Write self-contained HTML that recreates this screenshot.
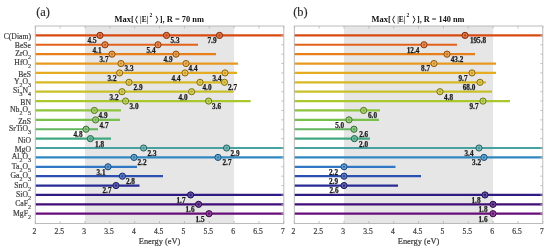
<!DOCTYPE html>
<html><head><meta charset="utf-8"><style>
html,body{margin:0;padding:0;background:#fff;width:550px;height:251px;overflow:hidden;}
#w{position:relative;width:550px;height:251px;filter:blur(0.3px);}
svg{position:absolute;left:0;top:0;}
text{font-family:"Liberation Serif",serif;}
.v{font-size:7.2px;font-weight:bold;fill:#1a1a1a;stroke:#1a1a1a;stroke-width:0.25px;}
.t{font-size:7.6px;fill:#3a3a3a;stroke:#3a3a3a;stroke-width:0.2px;}
.x{font-size:8.4px;fill:#3a3a3a;stroke:#3a3a3a;stroke-width:0.2px;}
.ttl{font-size:8.9px;font-weight:bold;fill:#111;}
.p{font-size:12.4px;fill:#2a2a2a;stroke:#2a2a2a;stroke-width:0.15px;}
.yn{position:absolute;right:519px;font-family:"Liberation Serif",serif;font-size:7.7px;line-height:11px;color:#3c3c3c;white-space:nowrap;-webkit-text-stroke:0.2px #3c3c3c;}
.yn sub{font-size:6px;vertical-align:-3.2px;line-height:0;}
</style></head><body><div id="w">
<svg width="550" height="251" viewBox="0 0 550 251">
<rect x="85.00" y="26.0" width="149.10" height="197.50" fill="#e6e6e6"/>
<line x1="35.30" y1="35.39" x2="283.80" y2="35.39" stroke="#d84a10" stroke-width="2.2"/>
<line x1="35.30" y1="44.77" x2="198.00" y2="44.77" stroke="#e2621a" stroke-width="2.2"/>
<line x1="35.30" y1="54.16" x2="216.00" y2="54.16" stroke="#e88019" stroke-width="2.2"/>
<line x1="35.30" y1="63.54" x2="238.00" y2="63.54" stroke="#e89a20" stroke-width="2.2"/>
<line x1="35.30" y1="72.93" x2="237.00" y2="72.93" stroke="#e6ac20" stroke-width="2.2"/>
<line x1="35.30" y1="82.31" x2="224.50" y2="82.31" stroke="#d8b820" stroke-width="2.2"/>
<line x1="35.30" y1="91.70" x2="233.50" y2="91.70" stroke="#c8c02a" stroke-width="2.2"/>
<line x1="35.30" y1="101.09" x2="250.60" y2="101.09" stroke="#a9c82c" stroke-width="2.2"/>
<line x1="35.30" y1="110.47" x2="121.00" y2="110.47" stroke="#8cc43c" stroke-width="2.2"/>
<line x1="35.30" y1="119.86" x2="120.00" y2="119.86" stroke="#78c04c" stroke-width="2.2"/>
<line x1="35.30" y1="129.24" x2="98.00" y2="129.24" stroke="#62b45e" stroke-width="2.2"/>
<line x1="35.30" y1="138.63" x2="111.00" y2="138.63" stroke="#42a880" stroke-width="2.2"/>
<line x1="35.30" y1="148.01" x2="283.80" y2="148.01" stroke="#46a2a0" stroke-width="2.2"/>
<line x1="35.30" y1="157.40" x2="283.80" y2="157.40" stroke="#3088c2" stroke-width="2.2"/>
<line x1="35.30" y1="166.79" x2="137.00" y2="166.79" stroke="#3078c6" stroke-width="2.2"/>
<line x1="35.30" y1="176.17" x2="163.00" y2="176.17" stroke="#2c50b0" stroke-width="2.2"/>
<line x1="35.30" y1="185.56" x2="139.50" y2="185.56" stroke="#2a2c96" stroke-width="2.2"/>
<line x1="35.30" y1="194.94" x2="283.80" y2="194.94" stroke="#301a84" stroke-width="2.2"/>
<line x1="35.30" y1="204.33" x2="283.80" y2="204.33" stroke="#400c76" stroke-width="2.2"/>
<line x1="35.30" y1="213.71" x2="283.80" y2="213.71" stroke="#6a0c7a" stroke-width="2.2"/>
<circle cx="100" cy="35.39" r="3.1" fill="#e1774b" stroke="#812c09" stroke-width="1.0"/>
<circle cx="100" cy="35.39" r="1.1" fill="#c2420e"/>
<circle cx="166.5" cy="35.39" r="3.1" fill="#e1774b" stroke="#812c09" stroke-width="1.0"/>
<circle cx="166.5" cy="35.39" r="1.1" fill="#c2420e"/>
<circle cx="219.5" cy="35.39" r="3.1" fill="#e1774b" stroke="#812c09" stroke-width="1.0"/>
<circle cx="219.5" cy="35.39" r="1.1" fill="#c2420e"/>
<circle cx="105" cy="44.77" r="3.1" fill="#e98953" stroke="#873a0f" stroke-width="1.0"/>
<circle cx="105" cy="44.77" r="1.1" fill="#cb5817"/>
<circle cx="158" cy="44.77" r="3.1" fill="#e98953" stroke="#873a0f" stroke-width="1.0"/>
<circle cx="158" cy="44.77" r="1.1" fill="#cb5817"/>
<circle cx="112" cy="54.16" r="3.1" fill="#ed9f52" stroke="#8b4c0f" stroke-width="1.0"/>
<circle cx="112" cy="54.16" r="1.1" fill="#d07316"/>
<circle cx="176" cy="54.16" r="3.1" fill="#ed9f52" stroke="#8b4c0f" stroke-width="1.0"/>
<circle cx="176" cy="54.16" r="1.1" fill="#d07316"/>
<circle cx="121" cy="63.54" r="3.1" fill="#edb357" stroke="#8b5c13" stroke-width="1.0"/>
<circle cx="121" cy="63.54" r="1.1" fill="#d08a1c"/>
<circle cx="186" cy="63.54" r="3.1" fill="#edb357" stroke="#8b5c13" stroke-width="1.0"/>
<circle cx="186" cy="63.54" r="1.1" fill="#d08a1c"/>
<circle cx="119.6" cy="72.93" r="3.1" fill="#ecc057" stroke="#8a6713" stroke-width="1.0"/>
<circle cx="119.6" cy="72.93" r="1.1" fill="#cf9a1c"/>
<circle cx="185" cy="72.93" r="3.1" fill="#ecc057" stroke="#8a6713" stroke-width="1.0"/>
<circle cx="185" cy="72.93" r="1.1" fill="#cf9a1c"/>
<circle cx="225" cy="72.93" r="3.1" fill="#ecc057" stroke="#8a6713" stroke-width="1.0"/>
<circle cx="225" cy="72.93" r="1.1" fill="#cf9a1c"/>
<circle cx="129" cy="82.31" r="3.1" fill="#e1c957" stroke="#816e13" stroke-width="1.0"/>
<circle cx="129" cy="82.31" r="1.1" fill="#c2a51c"/>
<circle cx="200" cy="82.31" r="3.1" fill="#e1c957" stroke="#816e13" stroke-width="1.0"/>
<circle cx="200" cy="82.31" r="1.1" fill="#c2a51c"/>
<circle cx="224.5" cy="82.31" r="3.1" fill="#e1c957" stroke="#816e13" stroke-width="1.0"/>
<circle cx="224.5" cy="82.31" r="1.1" fill="#c2a51c"/>
<circle cx="122" cy="91.70" r="3.1" fill="#d5cf5f" stroke="#787319" stroke-width="1.0"/>
<circle cx="122" cy="91.70" r="1.1" fill="#b4ac25"/>
<circle cx="191.6" cy="91.70" r="3.1" fill="#d5cf5f" stroke="#787319" stroke-width="1.0"/>
<circle cx="191.6" cy="91.70" r="1.1" fill="#b4ac25"/>
<circle cx="125.6" cy="101.09" r="3.1" fill="#bed560" stroke="#65781a" stroke-width="1.0"/>
<circle cx="125.6" cy="101.09" r="1.1" fill="#98b427"/>
<circle cx="208.6" cy="101.09" r="3.1" fill="#bed560" stroke="#65781a" stroke-width="1.0"/>
<circle cx="208.6" cy="101.09" r="1.1" fill="#98b427"/>
<circle cx="94.4" cy="110.47" r="3.1" fill="#a8d26c" stroke="#547524" stroke-width="1.0"/>
<circle cx="94.4" cy="110.47" r="1.1" fill="#7eb036"/>
<circle cx="95.6" cy="119.86" r="3.1" fill="#99cf78" stroke="#48732d" stroke-width="1.0"/>
<circle cx="95.6" cy="119.86" r="1.1" fill="#6cac44"/>
<circle cx="86" cy="129.24" r="3.1" fill="#89c686" stroke="#3a6c38" stroke-width="1.0"/>
<circle cx="86" cy="129.24" r="1.1" fill="#58a254"/>
<circle cx="90.4" cy="138.63" r="3.1" fill="#71bd9f" stroke="#27644c" stroke-width="1.0"/>
<circle cx="90.4" cy="138.63" r="1.1" fill="#3b9773"/>
<circle cx="143.6" cy="148.01" r="3.1" fill="#74b9b7" stroke="#2a6160" stroke-width="1.0"/>
<circle cx="143.6" cy="148.01" r="1.1" fill="#3f9190"/>
<circle cx="226.6" cy="148.01" r="3.1" fill="#74b9b7" stroke="#2a6160" stroke-width="1.0"/>
<circle cx="226.6" cy="148.01" r="1.1" fill="#3f9190"/>
<circle cx="134" cy="157.40" r="3.1" fill="#63a5d1" stroke="#1c5174" stroke-width="1.0"/>
<circle cx="134" cy="157.40" r="1.1" fill="#2b7aae"/>
<circle cx="218" cy="157.40" r="3.1" fill="#63a5d1" stroke="#1c5174" stroke-width="1.0"/>
<circle cx="218" cy="157.40" r="1.1" fill="#2b7aae"/>
<circle cx="108" cy="166.79" r="3.1" fill="#6399d4" stroke="#1c4876" stroke-width="1.0"/>
<circle cx="108" cy="166.79" r="1.1" fill="#2b6cb2"/>
<circle cx="122.4" cy="176.17" r="3.1" fill="#607bc3" stroke="#1a3069" stroke-width="1.0"/>
<circle cx="122.4" cy="176.17" r="1.1" fill="#27489e"/>
<circle cx="116" cy="185.56" r="3.1" fill="#5f60b0" stroke="#191a5a" stroke-width="1.0"/>
<circle cx="116" cy="185.56" r="1.1" fill="#252787"/>
<circle cx="190.6" cy="194.94" r="3.1" fill="#6353a2" stroke="#1c0f4f" stroke-width="1.0"/>
<circle cx="190.6" cy="194.94" r="1.1" fill="#2b1776"/>
<circle cx="198.6" cy="204.33" r="3.1" fill="#6f4898" stroke="#260746" stroke-width="1.0"/>
<circle cx="198.6" cy="204.33" r="1.1" fill="#390a6a"/>
<circle cx="209" cy="213.71" r="3.1" fill="#8f489b" stroke="#3f0749" stroke-width="1.0"/>
<circle cx="209" cy="213.71" r="1.1" fill="#5f0a6d"/>
<text class="v" x="92.00" y="43.29" text-anchor="middle">4.5</text>
<text class="v" x="175.00" y="43.29" text-anchor="middle">5.3</text>
<text class="v" x="212.00" y="43.29" text-anchor="middle">7.9</text>
<text class="v" x="97.00" y="52.67" text-anchor="middle">4.1</text>
<text class="v" x="151.00" y="52.67" text-anchor="middle">5.4</text>
<text class="v" x="104.00" y="62.06" text-anchor="middle">3.7</text>
<text class="v" x="168.00" y="62.06" text-anchor="middle">4.9</text>
<text class="v" x="129.00" y="71.44" text-anchor="middle">3.3</text>
<text class="v" x="193.00" y="71.44" text-anchor="middle">4.4</text>
<text class="v" x="112.00" y="80.83" text-anchor="middle">3.2</text>
<text class="v" x="176.00" y="80.83" text-anchor="middle">4.4</text>
<text class="v" x="217.00" y="80.83" text-anchor="middle">3.4</text>
<text class="v" x="138.00" y="90.21" text-anchor="middle">2.9</text>
<text class="v" x="207.00" y="90.21" text-anchor="middle">4.0</text>
<text class="v" x="232.50" y="90.21" text-anchor="middle">2.7</text>
<text class="v" x="114.00" y="99.60" text-anchor="middle">3.2</text>
<text class="v" x="183.00" y="99.60" text-anchor="middle">4.0</text>
<text class="v" x="134.00" y="108.99" text-anchor="middle">3.0</text>
<text class="v" x="216.60" y="108.99" text-anchor="middle">3.6</text>
<text class="v" x="103.00" y="118.37" text-anchor="middle">4.9</text>
<text class="v" x="104.00" y="127.76" text-anchor="middle">4.7</text>
<text class="v" x="78.00" y="137.14" text-anchor="middle">4.8</text>
<text class="v" x="99.60" y="146.53" text-anchor="middle">1.8</text>
<text class="v" x="152.00" y="155.91" text-anchor="middle">2.3</text>
<text class="v" x="235.00" y="155.91" text-anchor="middle">2.9</text>
<text class="v" x="142.00" y="165.30" text-anchor="middle">2.2</text>
<text class="v" x="227.00" y="165.30" text-anchor="middle">2.7</text>
<text class="v" x="101.00" y="174.69" text-anchor="middle">3.1</text>
<text class="v" x="130.40" y="184.07" text-anchor="middle">2.8</text>
<text class="v" x="107.00" y="193.46" text-anchor="middle">2.7</text>
<text class="v" x="181.00" y="202.84" text-anchor="middle">1.7</text>
<text class="v" x="190.00" y="212.23" text-anchor="middle">1.6</text>
<text class="v" x="200.00" y="221.61" text-anchor="middle">1.5</text>
<rect x="35.30" y="26.0" width="248.50" height="197.50" fill="none" stroke="#b4b4b4" stroke-width="0.9"/>
<line x1="35.30" y1="26.0" x2="35.30" y2="28.5" stroke="#b4b4b4" stroke-width="0.8"/>
<line x1="35.30" y1="223.5" x2="35.30" y2="221.0" stroke="#b4b4b4" stroke-width="0.8"/>
<text class="t" x="34.40" y="234.10" text-anchor="middle">2</text>
<line x1="60.15" y1="26.0" x2="60.15" y2="28.5" stroke="#b4b4b4" stroke-width="0.8"/>
<line x1="60.15" y1="223.5" x2="60.15" y2="221.0" stroke="#b4b4b4" stroke-width="0.8"/>
<text class="t" x="59.25" y="234.10" text-anchor="middle">2.5</text>
<line x1="85.00" y1="26.0" x2="85.00" y2="28.5" stroke="#b4b4b4" stroke-width="0.8"/>
<line x1="85.00" y1="223.5" x2="85.00" y2="221.0" stroke="#b4b4b4" stroke-width="0.8"/>
<text class="t" x="84.10" y="234.10" text-anchor="middle">3</text>
<line x1="109.85" y1="26.0" x2="109.85" y2="28.5" stroke="#b4b4b4" stroke-width="0.8"/>
<line x1="109.85" y1="223.5" x2="109.85" y2="221.0" stroke="#b4b4b4" stroke-width="0.8"/>
<text class="t" x="108.95" y="234.10" text-anchor="middle">3.5</text>
<line x1="134.70" y1="26.0" x2="134.70" y2="28.5" stroke="#b4b4b4" stroke-width="0.8"/>
<line x1="134.70" y1="223.5" x2="134.70" y2="221.0" stroke="#b4b4b4" stroke-width="0.8"/>
<text class="t" x="133.80" y="234.10" text-anchor="middle">4</text>
<line x1="159.55" y1="26.0" x2="159.55" y2="28.5" stroke="#b4b4b4" stroke-width="0.8"/>
<line x1="159.55" y1="223.5" x2="159.55" y2="221.0" stroke="#b4b4b4" stroke-width="0.8"/>
<text class="t" x="158.65" y="234.10" text-anchor="middle">4.5</text>
<line x1="184.40" y1="26.0" x2="184.40" y2="28.5" stroke="#b4b4b4" stroke-width="0.8"/>
<line x1="184.40" y1="223.5" x2="184.40" y2="221.0" stroke="#b4b4b4" stroke-width="0.8"/>
<text class="t" x="183.50" y="234.10" text-anchor="middle">5</text>
<line x1="209.25" y1="26.0" x2="209.25" y2="28.5" stroke="#b4b4b4" stroke-width="0.8"/>
<line x1="209.25" y1="223.5" x2="209.25" y2="221.0" stroke="#b4b4b4" stroke-width="0.8"/>
<text class="t" x="208.35" y="234.10" text-anchor="middle">5.5</text>
<line x1="234.10" y1="26.0" x2="234.10" y2="28.5" stroke="#b4b4b4" stroke-width="0.8"/>
<line x1="234.10" y1="223.5" x2="234.10" y2="221.0" stroke="#b4b4b4" stroke-width="0.8"/>
<text class="t" x="233.20" y="234.10" text-anchor="middle">6</text>
<line x1="258.95" y1="26.0" x2="258.95" y2="28.5" stroke="#b4b4b4" stroke-width="0.8"/>
<line x1="258.95" y1="223.5" x2="258.95" y2="221.0" stroke="#b4b4b4" stroke-width="0.8"/>
<text class="t" x="258.05" y="234.10" text-anchor="middle">6.5</text>
<line x1="283.80" y1="26.0" x2="283.80" y2="28.5" stroke="#b4b4b4" stroke-width="0.8"/>
<line x1="283.80" y1="223.5" x2="283.80" y2="221.0" stroke="#b4b4b4" stroke-width="0.8"/>
<text class="t" x="282.90" y="234.10" text-anchor="middle">7</text>
<line x1="283.80" y1="35.39" x2="281.30" y2="35.39" stroke="#b4b4b4" stroke-width="0.8"/>
<line x1="283.80" y1="44.77" x2="281.30" y2="44.77" stroke="#b4b4b4" stroke-width="0.8"/>
<line x1="283.80" y1="54.16" x2="281.30" y2="54.16" stroke="#b4b4b4" stroke-width="0.8"/>
<line x1="283.80" y1="63.54" x2="281.30" y2="63.54" stroke="#b4b4b4" stroke-width="0.8"/>
<line x1="283.80" y1="72.93" x2="281.30" y2="72.93" stroke="#b4b4b4" stroke-width="0.8"/>
<line x1="283.80" y1="82.31" x2="281.30" y2="82.31" stroke="#b4b4b4" stroke-width="0.8"/>
<line x1="283.80" y1="91.70" x2="281.30" y2="91.70" stroke="#b4b4b4" stroke-width="0.8"/>
<line x1="283.80" y1="101.09" x2="281.30" y2="101.09" stroke="#b4b4b4" stroke-width="0.8"/>
<line x1="283.80" y1="110.47" x2="281.30" y2="110.47" stroke="#b4b4b4" stroke-width="0.8"/>
<line x1="283.80" y1="119.86" x2="281.30" y2="119.86" stroke="#b4b4b4" stroke-width="0.8"/>
<line x1="283.80" y1="129.24" x2="281.30" y2="129.24" stroke="#b4b4b4" stroke-width="0.8"/>
<line x1="283.80" y1="138.63" x2="281.30" y2="138.63" stroke="#b4b4b4" stroke-width="0.8"/>
<line x1="283.80" y1="148.01" x2="281.30" y2="148.01" stroke="#b4b4b4" stroke-width="0.8"/>
<line x1="283.80" y1="157.40" x2="281.30" y2="157.40" stroke="#b4b4b4" stroke-width="0.8"/>
<line x1="283.80" y1="166.79" x2="281.30" y2="166.79" stroke="#b4b4b4" stroke-width="0.8"/>
<line x1="283.80" y1="176.17" x2="281.30" y2="176.17" stroke="#b4b4b4" stroke-width="0.8"/>
<line x1="283.80" y1="185.56" x2="281.30" y2="185.56" stroke="#b4b4b4" stroke-width="0.8"/>
<line x1="283.80" y1="194.94" x2="281.30" y2="194.94" stroke="#b4b4b4" stroke-width="0.8"/>
<line x1="283.80" y1="204.33" x2="281.30" y2="204.33" stroke="#b4b4b4" stroke-width="0.8"/>
<line x1="283.80" y1="213.71" x2="281.30" y2="213.71" stroke="#b4b4b4" stroke-width="0.8"/>
<text class="x" x="159.55" y="244.10" text-anchor="middle">Energy (eV)</text>
<rect x="344.00" y="26.0" width="149.10" height="197.50" fill="#e6e6e6"/>
<line x1="294.30" y1="35.39" x2="542.80" y2="35.39" stroke="#d84a10" stroke-width="2.2"/>
<line x1="294.30" y1="44.77" x2="457.00" y2="44.77" stroke="#e2621a" stroke-width="2.2"/>
<line x1="294.30" y1="54.16" x2="475.00" y2="54.16" stroke="#e88019" stroke-width="2.2"/>
<line x1="294.30" y1="63.54" x2="496.00" y2="63.54" stroke="#e89a20" stroke-width="2.2"/>
<line x1="294.30" y1="72.93" x2="496.00" y2="72.93" stroke="#e6ac20" stroke-width="2.2"/>
<line x1="294.30" y1="82.31" x2="486.00" y2="82.31" stroke="#d8b820" stroke-width="2.2"/>
<line x1="294.30" y1="91.70" x2="492.00" y2="91.70" stroke="#c8c02a" stroke-width="2.2"/>
<line x1="294.30" y1="101.09" x2="510.00" y2="101.09" stroke="#a9c82c" stroke-width="2.2"/>
<line x1="294.30" y1="110.47" x2="380.00" y2="110.47" stroke="#8cc43c" stroke-width="2.2"/>
<line x1="294.30" y1="119.86" x2="379.00" y2="119.86" stroke="#78c04c" stroke-width="2.2"/>
<line x1="294.30" y1="129.24" x2="355.00" y2="129.24" stroke="#62b45e" stroke-width="2.2"/>
<line x1="294.30" y1="138.63" x2="370.00" y2="138.63" stroke="#42a880" stroke-width="2.2"/>
<line x1="294.30" y1="148.01" x2="542.80" y2="148.01" stroke="#46a2a0" stroke-width="2.2"/>
<line x1="294.30" y1="157.40" x2="542.80" y2="157.40" stroke="#3088c2" stroke-width="2.2"/>
<line x1="294.30" y1="166.79" x2="395.50" y2="166.79" stroke="#3078c6" stroke-width="2.2"/>
<line x1="294.30" y1="176.17" x2="421.00" y2="176.17" stroke="#2c50b0" stroke-width="2.2"/>
<line x1="294.30" y1="185.56" x2="398.00" y2="185.56" stroke="#2a2c96" stroke-width="2.2"/>
<line x1="294.30" y1="194.94" x2="542.80" y2="194.94" stroke="#301a84" stroke-width="2.2"/>
<line x1="294.30" y1="204.33" x2="542.80" y2="204.33" stroke="#400c76" stroke-width="2.2"/>
<line x1="294.30" y1="213.71" x2="542.80" y2="213.71" stroke="#6a0c7a" stroke-width="2.2"/>
<circle cx="465" cy="35.39" r="3.1" fill="#e1774b" stroke="#812c09" stroke-width="1.0"/>
<circle cx="465" cy="35.39" r="1.1" fill="#c2420e"/>
<circle cx="424" cy="44.77" r="3.1" fill="#e98953" stroke="#873a0f" stroke-width="1.0"/>
<circle cx="424" cy="44.77" r="1.1" fill="#cb5817"/>
<circle cx="447" cy="54.16" r="3.1" fill="#ed9f52" stroke="#8b4c0f" stroke-width="1.0"/>
<circle cx="447" cy="54.16" r="1.1" fill="#d07316"/>
<circle cx="434" cy="63.54" r="3.1" fill="#edb357" stroke="#8b5c13" stroke-width="1.0"/>
<circle cx="434" cy="63.54" r="1.1" fill="#d08a1c"/>
<circle cx="472" cy="72.93" r="3.1" fill="#ecc057" stroke="#8a6713" stroke-width="1.0"/>
<circle cx="472" cy="72.93" r="1.1" fill="#cf9a1c"/>
<circle cx="480" cy="82.31" r="3.1" fill="#e1c957" stroke="#816e13" stroke-width="1.0"/>
<circle cx="480" cy="82.31" r="1.1" fill="#c2a51c"/>
<circle cx="440" cy="91.70" r="3.1" fill="#d5cf5f" stroke="#787319" stroke-width="1.0"/>
<circle cx="440" cy="91.70" r="1.1" fill="#b4ac25"/>
<circle cx="483" cy="101.09" r="3.1" fill="#bed560" stroke="#65781a" stroke-width="1.0"/>
<circle cx="483" cy="101.09" r="1.1" fill="#98b427"/>
<circle cx="363.6" cy="110.47" r="3.1" fill="#a8d26c" stroke="#547524" stroke-width="1.0"/>
<circle cx="363.6" cy="110.47" r="1.1" fill="#7eb036"/>
<circle cx="349" cy="119.86" r="3.1" fill="#99cf78" stroke="#48732d" stroke-width="1.0"/>
<circle cx="349" cy="119.86" r="1.1" fill="#6cac44"/>
<circle cx="354" cy="129.24" r="3.1" fill="#89c686" stroke="#3a6c38" stroke-width="1.0"/>
<circle cx="354" cy="129.24" r="1.1" fill="#58a254"/>
<circle cx="354.4" cy="138.63" r="3.1" fill="#71bd9f" stroke="#27644c" stroke-width="1.0"/>
<circle cx="354.4" cy="138.63" r="1.1" fill="#3b9773"/>
<circle cx="479" cy="148.01" r="3.1" fill="#74b9b7" stroke="#2a6160" stroke-width="1.0"/>
<circle cx="479" cy="148.01" r="1.1" fill="#3f9190"/>
<circle cx="484" cy="157.40" r="3.1" fill="#63a5d1" stroke="#1c5174" stroke-width="1.0"/>
<circle cx="484" cy="157.40" r="1.1" fill="#2b7aae"/>
<circle cx="344" cy="166.79" r="3.1" fill="#6399d4" stroke="#1c4876" stroke-width="1.0"/>
<circle cx="344" cy="166.79" r="1.1" fill="#2b6cb2"/>
<circle cx="344" cy="176.17" r="3.1" fill="#607bc3" stroke="#1a3069" stroke-width="1.0"/>
<circle cx="344" cy="176.17" r="1.1" fill="#27489e"/>
<circle cx="344" cy="185.56" r="3.1" fill="#5f60b0" stroke="#191a5a" stroke-width="1.0"/>
<circle cx="344" cy="185.56" r="1.1" fill="#252787"/>
<circle cx="485" cy="194.94" r="3.1" fill="#6353a2" stroke="#1c0f4f" stroke-width="1.0"/>
<circle cx="485" cy="194.94" r="1.1" fill="#2b1776"/>
<circle cx="493" cy="204.33" r="3.1" fill="#6f4898" stroke="#260746" stroke-width="1.0"/>
<circle cx="493" cy="204.33" r="1.1" fill="#390a6a"/>
<circle cx="493" cy="213.71" r="3.1" fill="#8f489b" stroke="#3f0749" stroke-width="1.0"/>
<circle cx="493" cy="213.71" r="1.1" fill="#5f0a6d"/>
<text class="v" x="478.00" y="43.29" text-anchor="middle">195.8</text>
<text class="v" x="413.00" y="52.67" text-anchor="middle">12.4</text>
<text class="v" x="457.00" y="62.06" text-anchor="middle">43.2</text>
<text class="v" x="425.60" y="71.44" text-anchor="middle">8.7</text>
<text class="v" x="463.00" y="80.83" text-anchor="middle">9.7</text>
<text class="v" x="469.00" y="90.21" text-anchor="middle">68.0</text>
<text class="v" x="448.60" y="99.60" text-anchor="middle">4.8</text>
<text class="v" x="474.00" y="108.99" text-anchor="middle">9.7</text>
<text class="v" x="372.50" y="118.37" text-anchor="middle">6.0</text>
<text class="v" x="339.70" y="127.76" text-anchor="middle">5.0</text>
<text class="v" x="363.70" y="137.14" text-anchor="middle">2.6</text>
<text class="v" x="363.60" y="146.53" text-anchor="middle">2.0</text>
<text class="v" x="469.00" y="155.91" text-anchor="middle">3.4</text>
<text class="v" x="476.60" y="165.30" text-anchor="middle">3.2</text>
<text class="v" x="333.50" y="174.69" text-anchor="middle">2.2</text>
<text class="v" x="333.50" y="184.07" text-anchor="middle">2.9</text>
<text class="v" x="334.00" y="193.46" text-anchor="middle">2.6</text>
<text class="v" x="476.00" y="202.84" text-anchor="middle">1.8</text>
<text class="v" x="483.00" y="212.23" text-anchor="middle">1.8</text>
<text class="v" x="483.00" y="221.61" text-anchor="middle">1.6</text>
<rect x="294.30" y="26.0" width="248.50" height="197.50" fill="none" stroke="#b4b4b4" stroke-width="0.9"/>
<line x1="294.30" y1="26.0" x2="294.30" y2="28.5" stroke="#b4b4b4" stroke-width="0.8"/>
<line x1="294.30" y1="223.5" x2="294.30" y2="221.0" stroke="#b4b4b4" stroke-width="0.8"/>
<text class="t" x="293.40" y="234.10" text-anchor="middle">2</text>
<line x1="319.15" y1="26.0" x2="319.15" y2="28.5" stroke="#b4b4b4" stroke-width="0.8"/>
<line x1="319.15" y1="223.5" x2="319.15" y2="221.0" stroke="#b4b4b4" stroke-width="0.8"/>
<text class="t" x="318.25" y="234.10" text-anchor="middle">2.5</text>
<line x1="344.00" y1="26.0" x2="344.00" y2="28.5" stroke="#b4b4b4" stroke-width="0.8"/>
<line x1="344.00" y1="223.5" x2="344.00" y2="221.0" stroke="#b4b4b4" stroke-width="0.8"/>
<text class="t" x="343.10" y="234.10" text-anchor="middle">3</text>
<line x1="368.85" y1="26.0" x2="368.85" y2="28.5" stroke="#b4b4b4" stroke-width="0.8"/>
<line x1="368.85" y1="223.5" x2="368.85" y2="221.0" stroke="#b4b4b4" stroke-width="0.8"/>
<text class="t" x="367.95" y="234.10" text-anchor="middle">3.5</text>
<line x1="393.70" y1="26.0" x2="393.70" y2="28.5" stroke="#b4b4b4" stroke-width="0.8"/>
<line x1="393.70" y1="223.5" x2="393.70" y2="221.0" stroke="#b4b4b4" stroke-width="0.8"/>
<text class="t" x="392.80" y="234.10" text-anchor="middle">4</text>
<line x1="418.55" y1="26.0" x2="418.55" y2="28.5" stroke="#b4b4b4" stroke-width="0.8"/>
<line x1="418.55" y1="223.5" x2="418.55" y2="221.0" stroke="#b4b4b4" stroke-width="0.8"/>
<text class="t" x="417.65" y="234.10" text-anchor="middle">4.5</text>
<line x1="443.40" y1="26.0" x2="443.40" y2="28.5" stroke="#b4b4b4" stroke-width="0.8"/>
<line x1="443.40" y1="223.5" x2="443.40" y2="221.0" stroke="#b4b4b4" stroke-width="0.8"/>
<text class="t" x="442.50" y="234.10" text-anchor="middle">5</text>
<line x1="468.25" y1="26.0" x2="468.25" y2="28.5" stroke="#b4b4b4" stroke-width="0.8"/>
<line x1="468.25" y1="223.5" x2="468.25" y2="221.0" stroke="#b4b4b4" stroke-width="0.8"/>
<text class="t" x="467.35" y="234.10" text-anchor="middle">5.5</text>
<line x1="493.10" y1="26.0" x2="493.10" y2="28.5" stroke="#b4b4b4" stroke-width="0.8"/>
<line x1="493.10" y1="223.5" x2="493.10" y2="221.0" stroke="#b4b4b4" stroke-width="0.8"/>
<text class="t" x="492.20" y="234.10" text-anchor="middle">6</text>
<line x1="517.95" y1="26.0" x2="517.95" y2="28.5" stroke="#b4b4b4" stroke-width="0.8"/>
<line x1="517.95" y1="223.5" x2="517.95" y2="221.0" stroke="#b4b4b4" stroke-width="0.8"/>
<text class="t" x="517.05" y="234.10" text-anchor="middle">6.5</text>
<line x1="542.80" y1="26.0" x2="542.80" y2="28.5" stroke="#b4b4b4" stroke-width="0.8"/>
<line x1="542.80" y1="223.5" x2="542.80" y2="221.0" stroke="#b4b4b4" stroke-width="0.8"/>
<text class="t" x="541.90" y="234.10" text-anchor="middle">7</text>
<line x1="542.80" y1="35.39" x2="540.30" y2="35.39" stroke="#b4b4b4" stroke-width="0.8"/>
<line x1="542.80" y1="44.77" x2="540.30" y2="44.77" stroke="#b4b4b4" stroke-width="0.8"/>
<line x1="542.80" y1="54.16" x2="540.30" y2="54.16" stroke="#b4b4b4" stroke-width="0.8"/>
<line x1="542.80" y1="63.54" x2="540.30" y2="63.54" stroke="#b4b4b4" stroke-width="0.8"/>
<line x1="542.80" y1="72.93" x2="540.30" y2="72.93" stroke="#b4b4b4" stroke-width="0.8"/>
<line x1="542.80" y1="82.31" x2="540.30" y2="82.31" stroke="#b4b4b4" stroke-width="0.8"/>
<line x1="542.80" y1="91.70" x2="540.30" y2="91.70" stroke="#b4b4b4" stroke-width="0.8"/>
<line x1="542.80" y1="101.09" x2="540.30" y2="101.09" stroke="#b4b4b4" stroke-width="0.8"/>
<line x1="542.80" y1="110.47" x2="540.30" y2="110.47" stroke="#b4b4b4" stroke-width="0.8"/>
<line x1="542.80" y1="119.86" x2="540.30" y2="119.86" stroke="#b4b4b4" stroke-width="0.8"/>
<line x1="542.80" y1="129.24" x2="540.30" y2="129.24" stroke="#b4b4b4" stroke-width="0.8"/>
<line x1="542.80" y1="138.63" x2="540.30" y2="138.63" stroke="#b4b4b4" stroke-width="0.8"/>
<line x1="542.80" y1="148.01" x2="540.30" y2="148.01" stroke="#b4b4b4" stroke-width="0.8"/>
<line x1="542.80" y1="157.40" x2="540.30" y2="157.40" stroke="#b4b4b4" stroke-width="0.8"/>
<line x1="542.80" y1="166.79" x2="540.30" y2="166.79" stroke="#b4b4b4" stroke-width="0.8"/>
<line x1="542.80" y1="176.17" x2="540.30" y2="176.17" stroke="#b4b4b4" stroke-width="0.8"/>
<line x1="542.80" y1="185.56" x2="540.30" y2="185.56" stroke="#b4b4b4" stroke-width="0.8"/>
<line x1="542.80" y1="194.94" x2="540.30" y2="194.94" stroke="#b4b4b4" stroke-width="0.8"/>
<line x1="542.80" y1="204.33" x2="540.30" y2="204.33" stroke="#b4b4b4" stroke-width="0.8"/>
<line x1="542.80" y1="213.71" x2="540.30" y2="213.71" stroke="#b4b4b4" stroke-width="0.8"/>
<text class="x" x="418.55" y="244.10" text-anchor="middle">Energy (eV)</text>
<text class="ttl" x="114.50" y="22" textLength="19.3" lengthAdjust="spacingAndGlyphs">Max[</text>
<polyline points="137.40,15.9 135.60,19.6 137.40,23.3" fill="none" stroke="#1a1a1a" stroke-width="0.95"/>
<text class="ttl" x="140.10" y="22" textLength="8.2" lengthAdjust="spacingAndGlyphs">|E|</text>
<text class="ttl" x="149.50" y="17.3" style="font-size:5.6px">2</text>
<polyline points="156.00,15.9 157.80,19.6 156.00,23.3" fill="none" stroke="#1a1a1a" stroke-width="0.95"/>
<text class="ttl" x="159.80" y="22" textLength="44.2" lengthAdjust="spacingAndGlyphs">], R = 70 nm</text>
<text class="ttl" x="371.60" y="22" textLength="19.3" lengthAdjust="spacingAndGlyphs">Max[</text>
<polyline points="394.50,15.9 392.70,19.6 394.50,23.3" fill="none" stroke="#1a1a1a" stroke-width="0.95"/>
<text class="ttl" x="397.20" y="22" textLength="8.2" lengthAdjust="spacingAndGlyphs">|E|</text>
<text class="ttl" x="406.60" y="17.3" style="font-size:5.6px">2</text>
<polyline points="413.10,15.9 414.90,19.6 413.10,23.3" fill="none" stroke="#1a1a1a" stroke-width="0.95"/>
<text class="ttl" x="416.90" y="22" textLength="47.6" lengthAdjust="spacingAndGlyphs">], R = 140 nm</text>
<text class="p" x="43.1" y="15.6" text-anchor="middle">(a)</text>
<text class="p" x="300.4" y="15.6" text-anchor="middle">(b)</text>
</svg>
<div class="yn" style="top:30.89px">C(Diam)</div>
<div class="yn" style="top:40.31px">BeSe</div>
<div class="yn" style="top:47.73px">ZrO<sub>2</sub></div>
<div class="yn" style="top:57.15px">HfO<sub>2</sub></div>
<div class="yn" style="top:68.57px">BeS</div>
<div class="yn" style="top:75.99px">Y<sub>2</sub>O<sub>3</sub></div>
<div class="yn" style="top:85.41px">Si<sub>3</sub>N<sub>4</sub></div>
<div class="yn" style="top:96.83px">BN</div>
<div class="yn" style="top:104.25px">Nb<sub>2</sub>O<sub>5</sub></div>
<div class="yn" style="top:115.67px">ZnS</div>
<div class="yn" style="top:123.09px">SrTiO<sub>3</sub></div>
<div class="yn" style="top:134.51px">NiO</div>
<div class="yn" style="top:143.93px">MgO</div>
<div class="yn" style="top:151.36px">Al<sub>2</sub>O<sub>3</sub></div>
<div class="yn" style="top:160.78px">Ta<sub>2</sub>O<sub>5</sub></div>
<div class="yn" style="top:170.20px">Ga<sub>2</sub>O<sub>3</sub></div>
<div class="yn" style="top:179.62px">SnO<sub>2</sub></div>
<div class="yn" style="top:189.04px">SiO<sub>2</sub></div>
<div class="yn" style="top:198.46px">CaF<sub>2</sub></div>
<div class="yn" style="top:207.88px">MgF<sub>2</sub></div>
</div></body></html>
